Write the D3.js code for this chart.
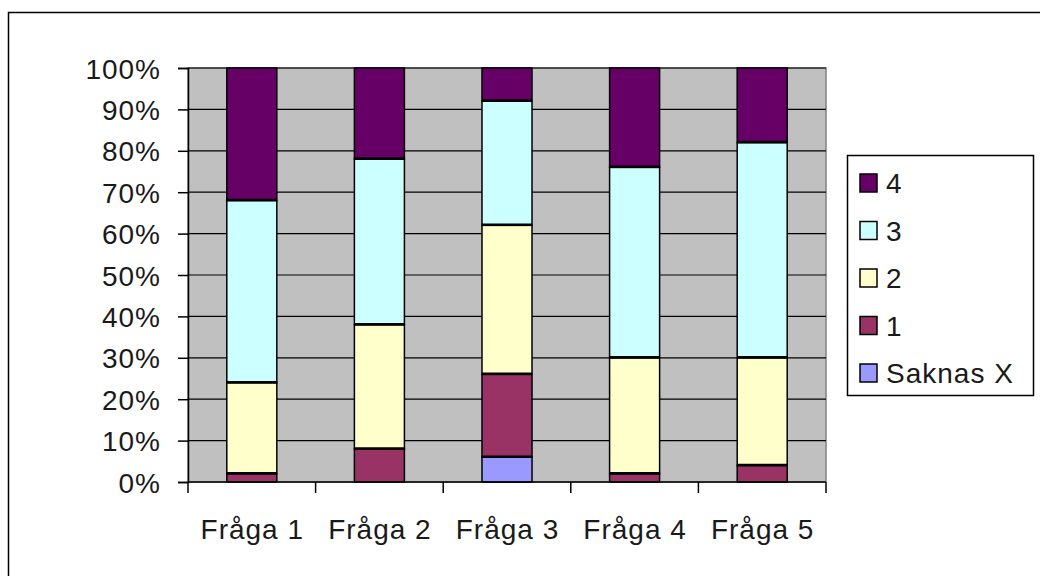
<!DOCTYPE html>
<html>
<head>
<meta charset="utf-8">
<script src="https://cdn.jsdelivr.net/npm/d3@7"></script>
<style>
  html, body { margin: 0; padding: 0; background: #fff; }
  svg text { font-family: "Liberation Sans", Arial, sans-serif; font-size: 28px; letter-spacing: 1px; fill: #1a1a1a; }
</style>
</head>
<body>
<svg id="chart" width="1040" height="576"></svg>
<script>
// ---- data ----
const categories = ["Fråga 1", "Fråga 2", "Fråga 3", "Fråga 4", "Fråga 5"];
const seriesNames = ["Saknas X", "1", "2", "3", "4"];
const saknasX = [0, 0, 6, 0, 0];
const s1 = [2, 8, 20, 2, 4];
const s2 = [22, 30, 36, 28, 26];
const s3 = [44, 40, 30, 46, 52];
const s4 = [32, 22, 8, 24, 18];
const yTicks = [0, 10, 20, 30, 40, 50, 60, 70, 80, 90, 100];
const colors = ["#9999FF", "#993366", "#FFFFCC", "#CCFFFF", "#660066"];

const seriesValues = [saknasX, s1, s2, s3, s4];
const table = categories.map((c, i) => {
  const row = { cat: c };
  seriesNames.forEach((s, j) => row[s] = seriesValues[j][i]);
  return row;
});

// ---- layout ----
const svg = d3.select("#chart");
const plot = { left: 188, right: 826, top: 68, bottom: 482 };

// outer chart frame
svg.append("rect")
  .attr("x", 8.5).attr("y", 12.5).attr("width", 1100).attr("height", 700)
  .attr("fill", "#fff").attr("stroke", "#000").attr("stroke-width", 1.5);

const x = d3.scaleBand().domain(categories)
  .range([plot.left, plot.right]).paddingInner(0.608).paddingOuter(0.304);
const y = d3.scaleLinear().domain([0, 100]).range([plot.bottom, plot.top]);

// plot area background
svg.append("rect")
  .attr("x", plot.left).attr("y", plot.top)
  .attr("width", plot.right - plot.left).attr("height", plot.bottom - plot.top)
  .attr("fill", "#C0C0C0").attr("stroke", "#808080").attr("stroke-width", 1.5);

// gridlines
svg.append("g").selectAll("line").data(yTicks.filter(t => t > 0)).join("line")
  .attr("x1", plot.left).attr("x2", plot.right)
  .attr("y1", d => y(d)).attr("y2", d => y(d))
  .attr("stroke", "#000").attr("stroke-width", 1.2);

// stacked bars
const stack = d3.stack().keys(seriesNames);
const stacked = stack(table);
const segs = svg.append("g").selectAll("g").data(stacked).join("g")
  .attr("fill", (d, i) => colors[i]);
segs.selectAll("rect").data(d => d.filter(p => p[1] - p[0] > 0)).join("rect")
  .attr("x", d => x(d.data.cat))
  .attr("width", x.bandwidth())
  .attr("y", d => y(d[1]))
  .attr("height", d => y(d[0]) - y(d[1]))
  .attr("stroke", "#000").attr("stroke-width", 1.5);
// heavier boundaries between stacked segments
segs.selectAll("line").data(d => d.filter(p => p[1] - p[0] > 0 && p[0] > 0)).join("line")
  .attr("x1", d => x(d.data.cat)).attr("x2", d => x(d.data.cat) + x.bandwidth())
  .attr("y1", d => y(d[0]) - 0.5).attr("y2", d => y(d[0]) - 0.5)
  .attr("stroke", "#000").attr("stroke-width", 2.5);

// y axis
const yAxis = d3.axisLeft(y).tickValues(yTicks).tickSize(10).tickPadding(17)
  .tickFormat(d => d + "%");
const gy = svg.append("g").attr("transform", `translate(${plot.left},0)`).call(yAxis);
gy.select(".domain").attr("stroke", "#000").attr("stroke-width", 1.5);
gy.selectAll(".tick line").attr("stroke", "#000").attr("stroke-width", 1.5);
gy.selectAll(".tick text").attr("fill", "#1a1a1a").attr("dy", "0.36em");
gy.attr("font-size", null).attr("font-family", null);

// x axis: ticks at category boundaries
const xAxisG = svg.append("g").attr("transform", `translate(0,${plot.bottom})`);
xAxisG.append("line").attr("x1", plot.left).attr("x2", plot.right)
  .attr("y1", 0).attr("y2", 0).attr("stroke", "#000").attr("stroke-width", 1.5);
const boundaries = categories.map(c => x(c) - x.step() * x.paddingOuter()).concat([plot.right]);
xAxisG.selectAll("line.tk").data(boundaries).join("line").attr("class", "tk")
  .attr("x1", d => d).attr("x2", d => d).attr("y1", 0).attr("y2", 11)
  .attr("stroke", "#000").attr("stroke-width", 1.5);
xAxisG.selectAll("text").data(categories).join("text")
  .attr("x", d => x(d) + x.bandwidth() / 2 + 0.5)
  .attr("y", 57)
  .attr("text-anchor", "middle")
  .text(d => d);

// legend
const legend = svg.append("g");
legend.append("rect").attr("x", 847.5).attr("y", 155.5).attr("width", 186).attr("height", 240)
  .attr("fill", "#fff").attr("stroke", "#000").attr("stroke-width", 1.5);
const legendOrder = seriesNames.map((s, i) => ({ name: s, color: colors[i] })).reverse();
const ly = d3.scalePoint().domain(legendOrder.map(d => d.name)).range([183, 373]);
const li = legend.selectAll("g.item").data(legendOrder).join("g").attr("class", "item")
  .attr("transform", d => `translate(0,${ly(d.name)})`);
li.append("rect").attr("x", 860).attr("y", -9).attr("width", 17).attr("height", 18)
  .attr("fill", d => d.color).attr("stroke", "#000").attr("stroke-width", 1.5);
li.append("text").attr("x", 886).attr("y", 10).text(d => d.name);
</script>
</body>
</html>
